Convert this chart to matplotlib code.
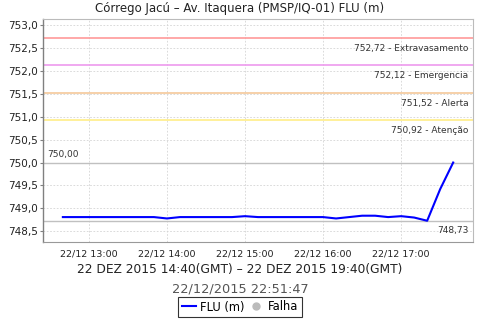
import matplotlib
matplotlib.use("Agg")
import matplotlib.pyplot as plt
import matplotlib.dates as mdates
from matplotlib.ticker import FuncFormatter, MultipleLocator
from matplotlib.lines import Line2D
import datetime as dt

plt.rcParams['font.family'] = ['DejaVu Sans']

title = "Córrego Jacú – Av. Itaquera (PMSP/IQ-01) FLU (m)"
xlabel = "22 DEZ 2015 14:40(GMT) – 22 DEZ 2015 19:40(GMT)"
subtitle = "22/12/2015 22:51:47"

start = dt.datetime(2015, 12, 22, 12, 40)
times = [start + dt.timedelta(minutes=10 * i) for i in range(31)]
levels = [748.81, 748.81, 748.81, 748.81, 748.81, 748.81, 748.81, 748.81,
          748.78, 748.81, 748.81, 748.81, 748.81, 748.81, 748.83, 748.81,
          748.81, 748.81, 748.81, 748.81, 748.81, 748.78, 748.81, 748.84,
          748.84, 748.81, 748.83, 748.80, 748.73, 749.42, 750.00]

thr_values = [752.72, 752.12, 751.52, 750.92]
thr_names = ["Extravasamento", "Emergencia", "Alerta", "Atenção"]
thr_colors = ["#FF9A9A", "#EE99EE", "#F5C89A", "#FFEE88"]

max_val = 750.00
min_val = 748.73

fig = plt.figure(figsize=(4.8, 3.2), dpi=100)
ax = fig.add_axes([0.0903, 0.2428, 0.8945, 0.6978])

ax.set_xlim(dt.datetime(2015, 12, 22, 12, 25), dt.datetime(2015, 12, 22, 17, 55))
ax.set_ylim(748.26, 753.13)

ax.grid(True, color="#D4D4D4", linestyle=(0, (2, 2)), linewidth=0.6)
ax.set_axisbelow(True)

for v, n, c in zip(thr_values, thr_names, thr_colors):
    ax.axhline(v, color=c, linewidth=1.2, zorder=2)
    ax.annotate(f"{v:.2f}".replace(".", ",") + " - " + n, xy=(1, v), xycoords=("axes fraction", "data"),
                xytext=(-3, -7.5), textcoords="offset points", ha="right", va="center",
                fontsize=6.5, color="#333333")

ax.axhline(max_val, color="#C0C0C0", linewidth=1.0, zorder=2)
ax.axhline(min_val, color="#C0C0C0", linewidth=1.0, zorder=2)
ax.annotate(f"{max_val:.2f}".replace(".", ","), xy=(0, max_val), xycoords=("axes fraction", "data"),
            xytext=(3, 6), textcoords="offset points", ha="left", va="center",
            fontsize=6.5, color="#333333")
ax.annotate(f"{min_val:.2f}".replace(".", ","), xy=(1, min_val), xycoords=("axes fraction", "data"),
            xytext=(-3, -7), textcoords="offset points", ha="right", va="center",
            fontsize=6.5, color="#333333")

ax.plot(times, levels, color="#0000FF", linewidth=1.5, zorder=3)

ax.yaxis.set_major_locator(MultipleLocator(0.5))
ax.yaxis.set_major_formatter(FuncFormatter(lambda v, p: f"{v:.1f}".replace(".", ",")))
ax.xaxis.set_major_locator(mdates.HourLocator())
ax.xaxis.set_major_formatter(mdates.DateFormatter("%d/%m %H:%M"))

ax.tick_params(axis="y", labelsize=7.5, length=2, width=0.8, color="#808080", pad=2, labelcolor="#222222")
ax.tick_params(axis="x", labelsize=6.8, length=0, pad=5, labelcolor="#222222")

for s in ["top", "right"]:
    ax.spines[s].set_color("#BBBBBB")
    ax.spines[s].set_linewidth(0.8)
ax.spines["left"].set_color("#808080")
ax.spines["left"].set_linewidth(1.0)
ax.spines["bottom"].set_color("#999999")
ax.spines["bottom"].set_linewidth(0.8)

fig.text(0.5, 1 - 8.5 / 320, title, ha="center", va="center", fontsize=8.5, color="#222222")
fig.text(0.5, 1 - 269.3 / 320, xlabel, ha="center", va="center", fontsize=8.8, color="#222222")
fig.text(0.5, 1 - 289 / 320, subtitle, ha="center", va="center", fontsize=9.3, color="#555555")

handles = [Line2D([0], [0], color="#0000FF", linewidth=1.5),
           Line2D([0], [0], linestyle="none", marker="o", markersize=5, color="#BBBBBB")]
leg = fig.legend(handles, ["FLU (m)", "Falha"], loc="center", bbox_to_anchor=(0.5, 1 - 307 / 320),
                 ncol=2, fontsize=8.3, frameon=True, fancybox=False, handlelength=1.2,
                 handletextpad=0.4, columnspacing=0.4, borderpad=0.3, borderaxespad=0)
leg.get_frame().set_edgecolor("black")
leg.get_frame().set_linewidth(0.8)

fig.savefig("out.png", dpi=100)
